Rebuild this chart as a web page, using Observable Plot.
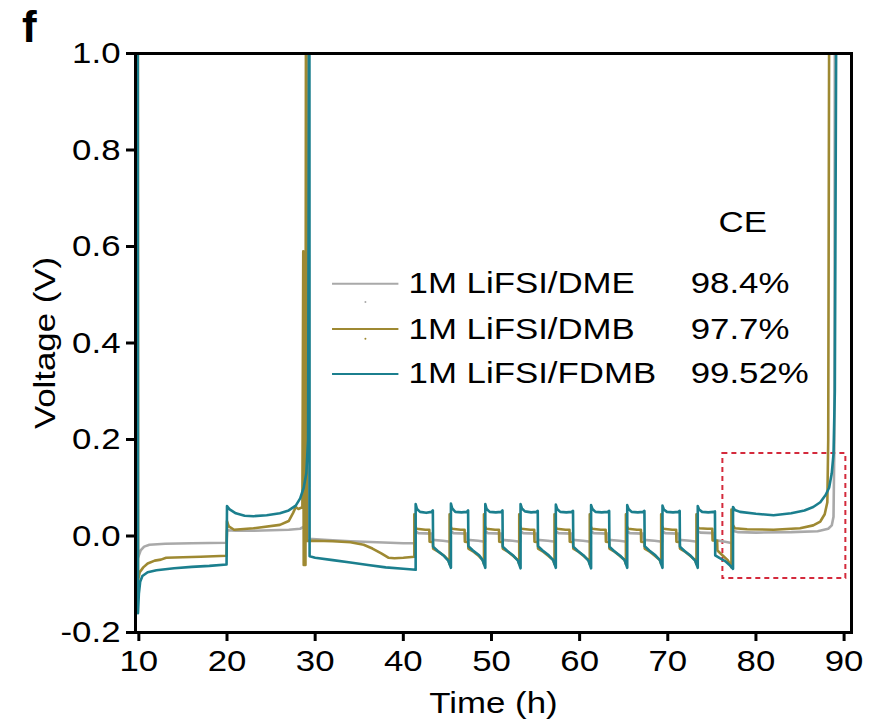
<!DOCTYPE html>
<html>
<head>
<meta charset="utf-8">
<script src="https://cdn.jsdelivr.net/npm/d3@7"></script>
<script src="https://cdn.jsdelivr.net/npm/@observablehq/plot@0.6"></script>
<style>
  html, body { margin: 0; padding: 0; background: #fff; }
  #wrap { position: relative; width: 884px; height: 724px; font-family: "Liberation Sans", Arial, sans-serif; }
  #panel { position: absolute; left: 22px; top: 5px; font-size: 44px; line-height: 44px; font-weight: bold; }
</style>
</head>
<body>
<div id="wrap"><div id="panel">f</div></div>
<script>
// ---------- data (time in h, voltage in V) ----------
const seriesNames = ["1M LiFSI/DME", "1M LiFSI/DMB", "1M LiFSI/FDMB"];
const seriesCE = ["98.4%", "97.7%", "99.52%"];
const seriesColors = ["#a9a9a9", "#9e8932", "#1b7f8e"];
const xTicks = [10, 20, 30, 40, 50, 60, 70, 80, 90];
const yTicks = [-0.2, 0.0, 0.2, 0.4, 0.6, 0.8, 1.0];

const dme = [
  [9.88,1.02],[9.9,-0.045],[10.2,-0.03],[10.6,-0.022],[11.2,-0.018],[13,-0.016],[16,-0.015],[19.95,-0.014],
  [20.0,0.012],[21,0.011],[23,0.011],[25,0.012],[27,0.013],[28.3,0.015],[28.8,0.02],[29.0,0.03],[29.1,0.1],[29.15,1.02],[29.2,1.02],[29.22,-0.005],
  [29.3,-0.006],[31,-0.008],[34,-0.011],[37,-0.013],[40,-0.015],[41.35,-0.015],
  [41.35,0.01],[41.7,0.006],[43.2,0.005],[43.25,-0.008],[44.5,-0.01],[45.35,-0.012],
  [45.35,0.01],[45.7,0.006],[47.2,0.005],[47.25,-0.008],[48.5,-0.01],[49.25,-0.012],
  [49.25,0.01],[49.6,0.006],[51.1,0.005],[51.15,-0.008],[52.4,-0.01],[53.25,-0.012],
  [53.25,0.01],[53.6,0.006],[55.1,0.005],[55.15,-0.008],[56.4,-0.01],[57.25,-0.012],
  [57.25,0.01],[57.6,0.006],[59.1,0.005],[59.15,-0.008],[60.4,-0.01],[61.25,-0.012],
  [61.25,0.01],[61.6,0.006],[63.2,0.005],[63.25,-0.008],[64.5,-0.01],[65.35,-0.012],
  [65.35,0.01],[65.7,0.006],[67.2,0.005],[67.25,-0.008],[68.5,-0.01],[69.35,-0.012],
  [69.35,0.01],[69.7,0.006],[71.2,0.005],[71.25,-0.008],[72.5,-0.01],[73.35,-0.012],
  [73.35,0.01],[73.7,0.007],[75.2,0.006],[75.25,-0.008],[76.5,-0.012],[77.35,-0.015],
  [77.35,0.011],[78,0.008],[80,0.007],[84,0.008],[87,0.01],[88.2,0.015],[88.6,0.022],[88.8,0.04],[88.9,0.2],[88.95,1.02]
];

const dmb = [
  [9.88,1.02],[9.9,-0.092],[10.1,-0.075],[10.5,-0.065],[11,-0.057],[11.8,-0.051],[12.5,-0.049],[13.1,-0.045],[15,-0.044],[17,-0.043],[19.95,-0.041],
  [20.0,0.031],[20.2,0.02],[20.8,0.013],[23,0.016],[26,0.023],[27,0.031],[27.5,0.048],[27.8,0.06],[28.1,0.056],[28.55,0.06],[28.65,0.59],[28.7,-0.06],[28.9,-0.06],[28.95,1.02],[29.0,1.02],[29.05,-0.01],
  [29.1,-0.01],[30,-0.01],[32,-0.011],[34,-0.013],[35.5,-0.018],[36.5,-0.026],[37.5,-0.036],[38.3,-0.045],[39,-0.046],[40,-0.045],[41.25,-0.043],
  [41.25,0.045],[41.3,0.022],[41.5,0.015],[42.5,0.013],[42.95,0.013],[42.98,-0.012],[43.35,-0.013],[43.38,-0.026],[44,-0.033],[44.7,-0.042],[45.1,-0.05],[45.25,-0.058],
  [45.25,0.045],[45.3,0.022],[45.5,0.015],[46.5,0.013],[46.95,0.013],[46.98,-0.012],[47.35,-0.013],[47.38,-0.026],[48,-0.033],[48.6,-0.042],[49.0,-0.05],[49.15,-0.058],
  [49.15,0.045],[49.2,0.022],[49.4,0.015],[50.4,0.013],[50.85,0.013],[50.88,-0.012],[51.25,-0.013],[51.28,-0.026],[51.9,-0.033],[52.5,-0.042],[53.0,-0.05],[53.15,-0.058],
  [53.15,0.045],[53.2,0.022],[53.4,0.015],[54.4,0.013],[54.85,0.013],[54.88,-0.012],[55.25,-0.013],[55.28,-0.026],[55.9,-0.033],[56.5,-0.042],[57.0,-0.05],[57.15,-0.058],
  [57.15,0.045],[57.2,0.022],[57.4,0.015],[58.4,0.013],[58.85,0.013],[58.88,-0.012],[59.25,-0.013],[59.28,-0.026],[59.9,-0.033],[60.5,-0.042],[61.0,-0.05],[61.15,-0.058],
  [61.15,0.045],[61.2,0.022],[61.4,0.015],[62.4,0.013],[62.95,0.013],[62.98,-0.012],[63.35,-0.013],[63.38,-0.026],[64,-0.033],[64.6,-0.042],[65.1,-0.05],[65.25,-0.058],
  [65.25,0.045],[65.3,0.022],[65.5,0.015],[66.5,0.013],[66.95,0.013],[66.98,-0.012],[67.35,-0.013],[67.38,-0.026],[68,-0.033],[68.6,-0.042],[69.1,-0.05],[69.25,-0.058],
  [69.25,0.045],[69.3,0.022],[69.5,0.015],[70.5,0.013],[70.95,0.013],[70.98,-0.012],[71.35,-0.013],[71.38,-0.026],[72,-0.033],[72.6,-0.042],[73.1,-0.05],[73.25,-0.058],
  [73.25,0.045],[73.3,0.022],[73.5,0.016],[74.5,0.015],[75.05,0.015],[75.08,-0.009],[75.6,-0.01],[75.63,-0.03],[76.2,-0.04],[76.8,-0.05],[77.1,-0.06],[77.22,-0.065],
  [77.22,0.055],[77.3,0.025],[77.6,0.016],[79,0.014],[82,0.013],[85,0.016],[86.5,0.022],[87.3,0.03],[87.8,0.045],[88.1,0.07],[88.2,0.2],[88.3,1.02]
];

const fdmb = [
  [9.88,1.02],[9.9,-0.16],[10.0,-0.12],[10.15,-0.095],[10.4,-0.083],[11,-0.075],[12,-0.071],[14,-0.067],[16,-0.064],[18,-0.062],[19.95,-0.059],
  [20.0,0.062],[20.3,0.055],[21,0.047],[22,0.042],[23,0.041],[24.5,0.043],[26,0.047],[27,0.053],[27.8,0.063],[28.3,0.078],[28.7,0.1],[29.0,0.13],[29.2,0.2],[29.3,1.02],[29.35,1.02],[29.37,-0.042],
  [30,-0.045],[32,-0.05],[34,-0.055],[36,-0.06],[38,-0.065],[40,-0.068],[41.4,-0.07],
  [41.4,0.066],[41.55,0.056],[41.9,0.05],[42.6,0.048],[43.2,0.05],[43.35,0.053],[43.38,-0.022],[43.9,-0.031],[44.6,-0.041],[45.1,-0.051],[45.4,-0.066],
  [45.4,0.067],[45.55,0.057],[45.9,0.05],[46.6,0.049],[47.2,0.05],[47.35,0.053],[47.38,-0.021],[47.9,-0.03],[48.6,-0.04],[49.0,-0.05],[49.3,-0.066],
  [49.3,0.066],[49.45,0.056],[49.8,0.05],[50.5,0.049],[51.1,0.05],[51.25,0.053],[51.28,-0.022],[51.8,-0.031],[52.5,-0.041],[53.0,-0.051],[53.3,-0.067],
  [53.3,0.066],[53.45,0.057],[53.8,0.051],[54.5,0.049],[55.1,0.05],[55.25,0.052],[55.28,-0.021],[55.8,-0.03],[56.5,-0.04],[57.0,-0.05],[57.3,-0.066],
  [57.3,0.065],[57.45,0.056],[57.8,0.05],[58.5,0.049],[59.1,0.05],[59.25,0.052],[59.28,-0.022],[59.8,-0.031],[60.5,-0.041],[61.0,-0.051],[61.3,-0.067],
  [61.3,0.064],[61.45,0.056],[61.8,0.05],[62.5,0.049],[63.2,0.05],[63.35,0.052],[63.38,-0.022],[63.9,-0.031],[64.6,-0.041],[65.1,-0.05],[65.4,-0.066],
  [65.4,0.064],[65.55,0.056],[65.9,0.05],[66.6,0.049],[67.2,0.05],[67.35,0.052],[67.38,-0.021],[67.9,-0.03],[68.6,-0.04],[69.1,-0.05],[69.4,-0.066],
  [69.4,0.063],[69.55,0.055],[69.9,0.05],[70.6,0.049],[71.2,0.05],[71.35,0.052],[71.38,-0.022],[71.9,-0.031],[72.6,-0.041],[73.1,-0.051],[73.4,-0.066],
  [73.4,0.062],[73.55,0.055],[73.9,0.05],[74.6,0.049],[75.2,0.05],[75.35,0.051],[75.38,-0.04],[75.9,-0.046],[76.5,-0.052],[77.0,-0.06],[77.4,-0.068],
  [77.4,0.06],[77.6,0.054],[78.2,0.05],[80,0.046],[82,0.043],[84,0.047],[85.5,0.053],[86.5,0.06],[87.3,0.07],[87.9,0.085],[88.3,0.1],[88.6,0.13],[88.8,0.17],[88.95,0.3],[89.1,1.02]
];

// annotation box (h, V) and legend placement (data units)
const boxT = [76.25, 90.2];
const boxV = [-0.088, 0.171];
const legendV = [0.523, 0.429, 0.336];
const legendLineT = [31.97, 39.5];
const legendTextT = 40.6;
const legendCET = 72.6;
const ceHeader = {t: 78.5, v: 0.65, label: "CE"};
const legendDots = [{t: 35.7, v: 0.485, c: 0}, {t: 35.7, v: 0.409, c: 1}];

// ---------- build ----------
const toRows = (arr, i) => arr.map(([t, v]) => ({t, v, s: seriesNames[i]}));
const lines = [dme, dmb, fdmb].map(toRows);
const legendRows = seriesNames.map((name, i) => ({name, ce: seriesCE[i], v: legendV[i], c: seriesColors[i], t1: legendLineT[0], t2: legendLineT[1]}));

const FS = 30;
const chart = Plot.plot({
  width: 884, height: 724,
  marginLeft: 135, marginRight: 33, marginTop: 53, marginBottom: 92,
  style: {fontFamily: '"Liberation Sans", Arial, sans-serif', fontSize: FS + "px", background: "transparent", color: "#000"},
  x: {domain: [9.62, 90.84]},
  y: {domain: [-0.2, 1.0]},
  marks: [
    Plot.rect([0], {x1: boxT[0], x2: boxT[1], y1: boxV[0], y2: boxV[1], fill: "none", stroke: "#d42a3c", strokeWidth: 2, strokeDasharray: "5,4"}),
    ...lines.map((rows, i) => Plot.line(rows, {x: "t", y: "v", stroke: seriesColors[i], strokeWidth: 2.6, clip: true, strokeLinejoin: "round"})),
    Plot.ruleY(legendRows, {x1: "t1", x2: "t2", y: "v", stroke: "c", strokeWidth: 2}),
    Plot.dot(legendDots, {x: "t", y: "v", r: 1, fill: d => seriesColors[d.c], stroke: null}),
    Plot.text(legendRows, {x: legendTextT, y: "v", text: "name", textAnchor: "start", lineAnchor: "middle", fontSize: FS}),
    Plot.text(legendRows, {x: legendCET, y: "v", text: "ce", textAnchor: "start", lineAnchor: "middle", fontSize: FS}),
    Plot.text([ceHeader], {x: "t", y: "v", text: "label", textAnchor: "middle", lineAnchor: "middle", fontSize: FS}),
    Plot.frame({stroke: "#000", strokeWidth: 3}),
    Plot.axisX({ticks: xTicks, tickSize: 9, strokeWidth: 3, tickPadding: 8, fontSize: FS, tickFormat: d => String(d),
      label: "Time (h)", labelAnchor: "center", labelArrow: "none", labelOffset: 80}),
    Plot.axisY({ticks: yTicks, tickSize: 9, strokeWidth: 3, tickPadding: 6, fontSize: FS, tickFormat: d => d.toFixed(1),
      label: "Voltage (V)", labelAnchor: "center", labelArrow: "none", labelOffset: 102})
  ]
});
chart.style.position = "absolute";
chart.style.left = "0px";
chart.style.top = "0px";
document.getElementById("wrap").appendChild(chart);

// the source figure is horizontally stretched; widen glyphs to match
const STRETCH = 1.16;
chart.querySelectorAll("text").forEach(el => {
  const len = el.getComputedTextLength();
  if (len > 0) {
    el.setAttribute("textLength", (len * STRETCH).toFixed(1));
    el.setAttribute("lengthAdjust", "spacingAndGlyphs");
  }
});
</script>
</body>
</html>
